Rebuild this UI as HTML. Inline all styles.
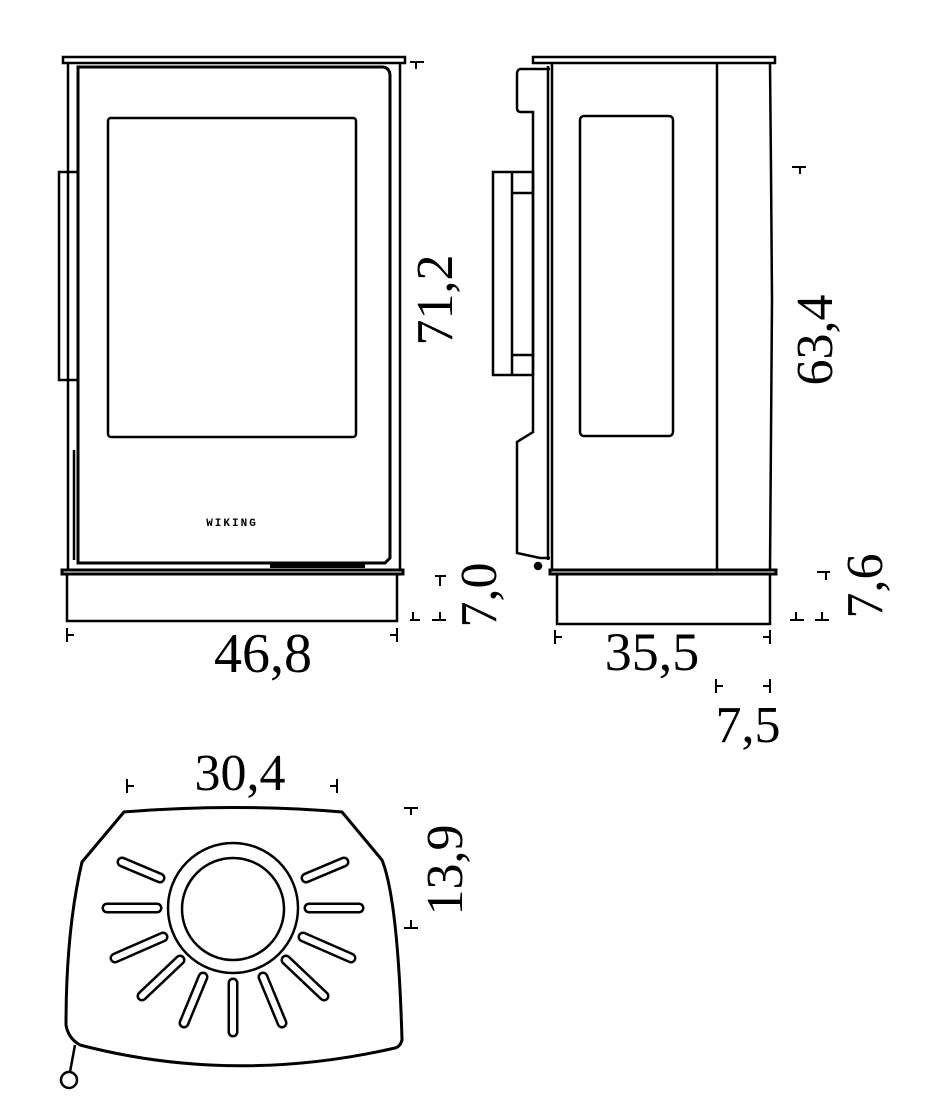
<!DOCTYPE html>
<html><head><style>
html,body{margin:0;padding:0;background:#fff;}
svg{display:block;}
text{font-family:"Liberation Serif",serif;fill:#000;}
</style></head><body>
<svg width="936" height="1118" viewBox="0 0 936 1118" xmlns="http://www.w3.org/2000/svg">
<g fill="none" stroke="#000" stroke-width="2.5">
<!-- FRONT VIEW -->
<rect x="63" y="57" width="342" height="6"/>
<line x1="68" y1="63" x2="68" y2="570"/>
<line x1="400" y1="63" x2="400" y2="570"/>
<path d="M78 67 H383 Q390 68 390 76 V558 L385 563 H78 Z" stroke-width="3"/>
<rect x="108" y="118" width="248" height="319" rx="3"/>
<rect x="59" y="172" width="19" height="208"/>
<line x1="74" y1="450" x2="74" y2="560"/>
<rect x="62" y="570" width="341" height="4" stroke-width="3"/>
<rect x="67" y="574" width="330" height="47"/>
<line x1="270" y1="566" x2="365" y2="566" stroke-width="4"/>
<!-- SIDE VIEW -->
<rect x="533" y="57" width="242" height="6"/>
<line x1="552" y1="63" x2="552" y2="570"/>
<line x1="548" y1="66" x2="548" y2="560"/>
<line x1="717" y1="63" x2="717" y2="570"/>
<path d="M770 63 L771 170 L772 300 L770 570"/>
<path d="M550 69 H520 Q517 70 517 74 V108 Q517 112 521 112 H533 V432 L517 442 V553 L540 558 H550"/>
<rect x="493" y="172" width="40" height="203"/>
<line x1="512" y1="172" x2="512" y2="375"/>
<line x1="512" y1="193" x2="533" y2="193"/>
<line x1="512" y1="355" x2="533" y2="355"/>
<rect x="580" y="116" width="93" height="320" rx="4"/>
<rect x="550" y="570" width="226" height="4" stroke-width="3"/>
<rect x="557" y="574" width="213" height="50"/>
<circle cx="538" cy="566" r="3" fill="#000"/>
<!-- TOP VIEW -->
<path d="M124 812 Q233 803 342 812 L382 860 Q398 900 402 1040 Q400 1047 395 1048 Q233 1085 80 1045 Q68 1038 66 1025 Q66 930 82 862 Z" stroke-width="3"/>
<circle cx="233" cy="908" r="65"/>
<circle cx="233" cy="909" r="51"/>
<line x1="75" y1="1045" x2="70" y2="1072"/>
<circle cx="69" cy="1080" r="8"/>
</g>
<!-- slots -->
<g stroke-linecap="round">
<g stroke="#000" stroke-width="11">
<line x1="160" y1="878" x2="122" y2="862"/><line x1="306" y1="878" x2="344" y2="862"/>
<line x1="157" y1="908" x2="107" y2="908"/><line x1="309" y1="908" x2="359" y2="908"/>
<line x1="163" y1="937" x2="115" y2="958"/><line x1="303" y1="937" x2="351" y2="958"/>
<line x1="180" y1="960" x2="142" y2="996"/><line x1="286" y1="960" x2="324" y2="996"/>
<line x1="203" y1="977" x2="184" y2="1023"/><line x1="263" y1="977" x2="282" y2="1023"/>
<line x1="233" y1="983" x2="233" y2="1032"/>
</g>
<g stroke="#fff" stroke-width="6">
<line x1="160" y1="878" x2="122" y2="862"/><line x1="306" y1="878" x2="344" y2="862"/>
<line x1="157" y1="908" x2="107" y2="908"/><line x1="309" y1="908" x2="359" y2="908"/>
<line x1="163" y1="937" x2="115" y2="958"/><line x1="303" y1="937" x2="351" y2="958"/>
<line x1="180" y1="960" x2="142" y2="996"/><line x1="286" y1="960" x2="324" y2="996"/>
<line x1="203" y1="977" x2="184" y2="1023"/><line x1="263" y1="977" x2="282" y2="1023"/>
<line x1="233" y1="983" x2="233" y2="1032"/>
</g>
</g>
<!-- dimension ticks -->
<g stroke="#000" stroke-width="2" fill="none">
<path d="M410 62 H424 M416 62 V69"/>
<path d="M435 576 H446 M440 576 V586"/>
<path d="M410 620 H420 M413 620 V612"/>
<path d="M432 620 H446 M440 620 V612"/>
<path d="M67 628 V642 M67 635 H74"/>
<path d="M397 628 V642 M397 635 H390"/>
<path d="M792 167 H806 M800 167 V174"/>
<path d="M817 572 H830 M826 572 V580"/>
<path d="M790 620 H804 M796 620 V612"/>
<path d="M815 620 H829 M822 620 V612"/>
<path d="M555 630 V644 M555 637 H562"/>
<path d="M770 630 V644 M770 637 H763"/>
<path d="M716 679 V693 M716 686 H723"/>
<path d="M770 679 V693 M770 686 H763"/>
<path d="M127 779 V793 M127 786 H134"/>
<path d="M337 779 V793 M337 786 H330"/>
<path d="M404 808 H418 M411 808 V815"/>
<path d="M404 928 H418 M411 928 V920"/>
</g>
<!-- labels -->
<g font-size="52">
<text transform="translate(452 300) rotate(-90)" text-anchor="middle">71,2</text>
<text transform="translate(496 595) rotate(-90)" text-anchor="middle">7,0</text>
<text x="263" y="672" text-anchor="middle" font-size="56">46,8</text>
<text transform="translate(832 340) rotate(-90)" text-anchor="middle">63,4</text>
<text transform="translate(882 586) rotate(-90)" text-anchor="middle">7,6</text>
<text x="652" y="670" text-anchor="middle" font-size="54">35,5</text>
<text x="748" y="742" text-anchor="middle">7,5</text>
<text x="240" y="790" text-anchor="middle">30,4</text>
<text transform="translate(462 870) rotate(-90)" text-anchor="middle">13,9</text>
</g>
<text x="232" y="526" text-anchor="middle" font-size="11" font-weight="bold" letter-spacing="2" style="font-family:'Liberation Mono',monospace">WIKING</text>
</svg>
</body></html>
